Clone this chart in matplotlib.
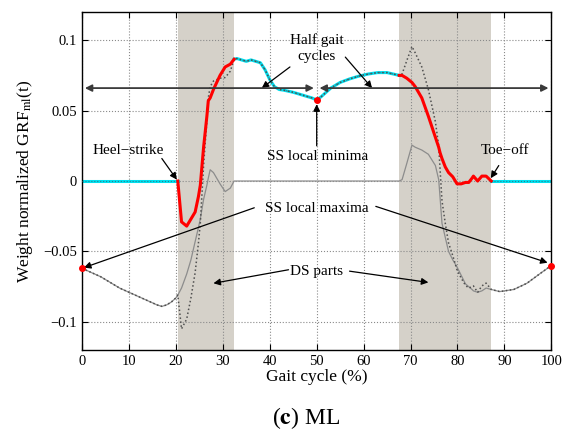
import numpy as np
import matplotlib
matplotlib.use('Agg')
import matplotlib.pyplot as plt

plt.rcParams['font.family'] = ['Liberation Serif', 'DejaVu Serif']
plt.rcParams['mathtext.fontset'] = 'stix'

# --- data (gait cycle %, weight normalized GRF_ml) ---
gait = [0, 2, 4, 6, 8, 10, 12, 14, 16, 17, 18, 19, 20, 20.4,
        21.2, 22.3, 23.2, 24.1, 24.8, 25.2, 25.9, 26.6, 26.9, 27.3, 28.0, 29.4, 30.5, 31.6, 32.4,
        33, 34, 35, 36, 37, 38, 39, 40, 41, 42, 43, 45, 47, 49, 50,
        51, 52, 53, 54, 55, 57, 59, 61, 63, 65, 67.6,
        68.2, 69.2, 70.3, 71.0, 72.4, 73.8, 75.3, 76.0, 76.3, 76.7, 77.4, 78.1, 79.0, 79.9,
        80.8, 81.7, 82.4, 83.1, 83.4, 84.3, 85.2, 86.1, 87.2, 89, 92, 94.8, 97.7, 100]

# foot whose stance spans the middle of the cycle (red / cyan curve)
grf_b = [0, 0, 0, 0, 0, 0, 0, 0, 0, 0, 0, 0, 0, 0,
         -0.029, -0.032, -0.027, -0.022, -0.011, -0.003, 0.024, 0.046, 0.057, 0.059, 0.065, 0.075, 0.081, 0.083, 0.0865,
         0.087, 0.086, 0.085, 0.086, 0.085, 0.084, 0.079, 0.072, 0.067, 0.065, 0.0645, 0.063, 0.061, 0.059, 0.0575,
         0.060, 0.063, 0.066, 0.068, 0.070, 0.0725, 0.0745, 0.076, 0.077, 0.077, 0.075,
         0.075, 0.073, 0.070, 0.067, 0.059, 0.046, 0.031, 0.024, 0.020, 0.016, 0.010, 0.006, 0.003, -0.002,
         -0.002, -0.001, -0.001, 0.002, 0.0035, 0.0, 0.0035, 0.0035, 0.0, 0, 0, 0, 0, 0]

# other foot (thin gray curve)
grf_a = [-0.062, -0.065, -0.068, -0.072, -0.076, -0.079, -0.082, -0.085, -0.088, -0.089, -0.088, -0.086, -0.083, -0.081,
         -0.076, -0.066, -0.056, -0.043, -0.033, -0.027, -0.013, -0.003, 0.002, 0.008, 0.006, -0.002, -0.0075, -0.005, 0.0,
         0, 0, 0, 0, 0, 0, 0, 0, 0, 0, 0, 0, 0, 0, 0,
         0, 0, 0, 0, 0, 0, 0, 0, 0, 0, 0,
         0.001, 0.0125, 0.0255, 0.024, 0.022, 0.019, 0.011, 0.001, -0.012, -0.030, -0.040, -0.050, -0.056, -0.061,
         -0.067, -0.073, -0.075, -0.077, -0.078, -0.079, -0.078, -0.076, -0.077, -0.0785, -0.077, -0.0726, -0.0655, -0.060]

ds_parts = [(20.4, 32.4), (67.6, 87.2)]
extrema_x = [0, 50, 100]
extrema_y = [-0.062, 0.0575, -0.060]
half_line_y = 0.066

x = np.array(gait)
b = np.array(grf_b)
a = np.array(grf_a)
total = a + b

fig = plt.figure(figsize=(5.62, 4.30), dpi=100)
ax = fig.add_axes([0.146, 0.186, 0.835, 0.786])

for lo, hi in ds_parts:
    ax.axvspan(lo, hi, color='#d5d1c9', lw=0, zorder=0.5)

ax.plot(x, a, color='#8c8c8c', lw=0.9, zorder=2)

# SS parts in cyan, DS parts in red
ss_masks = [x <= ds_parts[0][0], (x >= ds_parts[0][1]) & (x <= ds_parts[1][0]), x >= ds_parts[1][1]]
for m in ss_masks:
    ax.plot(x[m], b[m], color='#00e0f0', lw=2.2, zorder=2.5)
    ax.plot(x[m], b[m], color='#2a7f8a', lw=0.8, ls=':', zorder=2.6)
ax.plot(x, total, color='#505050', lw=1.1, ls=(0, (1, 1.6)), zorder=3)
for lo, hi in ds_parts:
    m = (x >= lo) & (x <= hi)
    ax.plot(x[m], b[m], color='#ff0000', lw=2.2, zorder=4)

ax.plot(extrema_x, extrema_y, 'o', color='#ff0000', ms=4, clip_on=False, zorder=6)

# half gait cycle arrows
arr2 = dict(arrowstyle='<|-|>', color='#3a3a3a', lw=1.3, shrinkA=0, shrinkB=0,
            mutation_scale=10)
ax.annotate('', xy=(0.6, half_line_y), xytext=(49.4, half_line_y), arrowprops=arr2, zorder=5)
ax.annotate('', xy=(50.6, half_line_y), xytext=(99.4, half_line_y), arrowprops=arr2, zorder=5)

arr = dict(arrowstyle='-|>', color='black', lw=0.9, shrinkA=0, shrinkB=0, mutation_scale=10)
fs = 11
ax.text(50, 0.0945, 'Half gait\ncycles', ha='center', va='center', fontsize=fs, linespacing=1.3)
ax.annotate('', xy=(38.3, half_line_y), xytext=(44.3, 0.081), arrowprops=arr)
ax.annotate('', xy=(61.8, half_line_y), xytext=(56.1, 0.088), arrowprops=arr)

ax.text(50.3, 0.0175, 'SS local minima', ha='center', va='center', fontsize=fs)
ax.annotate('', xy=(50, 0.0545), xytext=(50, 0.025), arrowprops=arr)

ax.text(9.8, 0.0215, 'Heel\u2212strike', ha='center', va='center', fontsize=fs)
ax.annotate('', xy=(20.2, 0.001), xytext=(17.0, 0.016), arrowprops=arr)

ax.text(90.2, 0.0215, 'Toe\u2212off', ha='center', va='center', fontsize=fs)
ax.annotate('', xy=(87.1, 0.002), xytext=(88.8, 0.011), arrowprops=arr)

ax.text(50.1, -0.0195, 'SS local maxima', ha='center', va='center', fontsize=fs)
ax.annotate('', xy=(0.4, -0.0615), xytext=(36.7, -0.019), arrowprops=arr)
ax.annotate('', xy=(99.2, -0.058), xytext=(62.6, -0.018), arrowprops=arr)

ax.text(50, -0.0643, 'DS parts', ha='center', va='center', fontsize=fs)
ax.annotate('', xy=(28.0, -0.0726), xytext=(44.0, -0.063), arrowprops=arr)
ax.annotate('', xy=(73.8, -0.072), xytext=(57.0, -0.064), arrowprops=arr)

ax.set_xlim(0, 100)
ax.set_ylim(-0.12, 0.12)
ax.set_xticks(np.arange(0, 101, 10))
ax.set_yticks([-0.1, -0.05, 0, 0.05, 0.1])
ax.set_yticklabels(['\u22120.1', '\u22120.05', '0', '0.05', '0.1'])
ax.tick_params(direction='in', top=True, right=True, labelsize=10.5, length=4)
ax.grid(True, ls=':', color='#8a8a8a', lw=0.8)
for s in ax.spines.values():
    s.set_linewidth(1.0)

ax.set_xlabel('Gait cycle (%)', fontsize=12.5, labelpad=1)
ax.set_ylabel(r'Weight normalized GRF$_{\mathrm{ml}}$(t)', fontsize=12.5, labelpad=6)

fig.text(0.545, 0.028, r'($\mathbf{c}$) ML', ha='center', va='center', fontsize=17)

plt.savefig('out.png', dpi=100)
plt.close()
